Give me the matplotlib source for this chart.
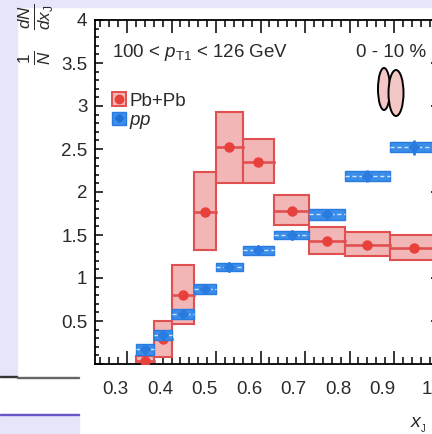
import numpy as np
import matplotlib
matplotlib.use("Agg")
import matplotlib.pyplot as plt
import matplotlib.transforms as mtransforms
from matplotlib.patches import Rectangle, Ellipse
from matplotlib.lines import Line2D
from matplotlib.legend_handler import HandlerTuple

plt.rcParams["font.family"] = ["Liberation Sans", "DejaVu Sans"]
plt.rcParams["mathtext.fontset"] = "custom"
plt.rcParams["mathtext.rm"] = "Liberation Sans"
plt.rcParams["mathtext.it"] = "Liberation Sans:italic"

# xJ bin edges
edges = [0.32, 0.36, 0.40, 0.45, 0.50, 0.56, 0.63, 0.71, 0.79, 0.89, 1.00]

# Pb+Pb, 0-10 %
pbpb = [0.04, 0.29, 0.80, 1.77, 2.52, 2.35, 1.78, 1.43, 1.38, 1.35]
pbpb_lo = [0.00, 0.08, 0.47, 1.32, 2.10, 2.10, 1.62, 1.28, 1.26, 1.21]
pbpb_hi = [0.09, 0.50, 1.15, 2.23, 2.93, 2.62, 1.97, 1.59, 1.53, 1.50]

# pp
pp = [0.17, 0.34, 0.58, 0.87, 1.13, 1.32, 1.50, 1.74, 2.19, 2.52]
pp_sys = [0.06, 0.06, 0.06, 0.06, 0.05, 0.05, 0.05, 0.06, 0.06, 0.06]
pp_stat = [0.05, 0.05, 0.05, 0.05, 0.05, 0.05, 0.05, 0.06, 0.07, 0.09]

xticks = [0.3, 0.4, 0.5, 0.6, 0.7, 0.8, 0.9, 1.0]
xticklabels = ["0.3", "0.4", "0.5", "0.6", "0.7", "0.8", "0.9", "1"]
yticks = [0, 0.5, 1, 1.5, 2, 2.5, 3, 3.5, 4]
yticklabels = ["", "0.5", "1", "1.5", "2", "2.5", "3", "3.5", "4"]

red_edge = "#e05050"
red_fill = "#f3b6b6"
red_mark = "#e8413c"
blue_fill = "#3a8de8"
blue_edge = "#2a7be0"
lavender = "#e6e6fa"
txt = "#2a2a2a"

W, H = 432, 434
fig = plt.figure(figsize=(W / 100, H / 100), dpi=100)
fig.patch.set_facecolor("white")

# slide background around the picture
def px_rect(x0, y0, x1, y1, color):
    fig.patches.append(Rectangle((x0 / W, 1 - y1 / H), (x1 - x0) / W, (y1 - y0) / H,
                                 transform=fig.transFigure, color=color, zorder=0))

px_rect(0, 0, W, 7, lavender)
px_rect(0, 0, 17, 376, lavender)
px_rect(0, 414, 79, H, lavender)
px_rect(0, 375.5, 17, 377, "#333333")
px_rect(17, 376.5, 79, 377.5, "#666666")
px_rect(0, 413.5, 79, 415, "#6a55c8")

ax = fig.add_axes([95 / W, 70 / H, 343.5 / W, 344 / H])
ax.set_xlim(0.228, 1.0)
ax.set_ylim(0, 4)

edges_a = np.array(edges)
centers = 0.5 * (edges_a[:-1] + edges_a[1:])
widths = np.diff(edges_a)

# Pb+Pb boxes
for c, w, v, lo, hi in zip(centers, widths, pbpb, pbpb_lo, pbpb_hi):
    ax.add_patch(Rectangle((c - w / 2, lo), w, hi - lo, facecolor=red_fill,
                           edgecolor=red_edge, lw=1.5, zorder=2))
    ax.plot([c - w / 2, c + w / 2], [v, v], color=red_edge, lw=1.9, zorder=3)
ax.plot(centers, pbpb, "o", color=red_mark, ms=6.5, zorder=4)

# pp boxes
for c, w, v, s in zip(centers, widths, pp, pp_sys):
    ax.add_patch(Rectangle((c - w / 2, v - s), w, 2 * s, facecolor=blue_fill,
                           edgecolor=blue_edge, lw=1.0, zorder=5))
    ax.plot([c - w / 2, c + w / 2], [v, v], color="#cfe3fb", lw=1.0,
            ls=(0, (3, 2)), zorder=6)
ax.errorbar(centers, pp, yerr=pp_stat, fmt="D", color=blue_edge, ms=5,
            elinewidth=2.0, capsize=0, zorder=7)

ax.xaxis.set_major_locator(matplotlib.ticker.FixedLocator(xticks))
ax.xaxis.set_major_formatter(matplotlib.ticker.FixedFormatter(xticklabels))
ax.xaxis.set_minor_locator(matplotlib.ticker.MultipleLocator(0.02))
ax.yaxis.set_major_locator(matplotlib.ticker.FixedLocator(yticks))
ax.yaxis.set_major_formatter(matplotlib.ticker.FixedFormatter(yticklabels))
ax.yaxis.set_minor_locator(matplotlib.ticker.MultipleLocator(0.1))

ax.tick_params(which="both", direction="in", top=True, right=True, width=1.1,
               colors="black", labelcolor=txt, labelsize=13.5)
ax.tick_params(axis="x", which="major", length=9.5, pad=12)
ax.tick_params(axis="x", which="minor", length=4.7)
ax.tick_params(axis="y", which="major", length=6, pad=5.5)
ax.tick_params(axis="y", which="minor", length=3)
for sp in ax.spines.values():
    sp.set_linewidth(1.3)

# labels sit a little left of their ticks in the original
shift = mtransforms.ScaledTranslation(-11.5 / 100, 0, fig.dpi_scale_trans)
for lab in ax.get_xticklabels():
    lab.set_transform(lab.get_transform() + shift)

fig.text(36 / W, 1 - 3 / H, r"$\frac{1}{N}\quad\frac{dN}{dx_{\mathrm{J}}}$",
         rotation=90, ha="center", va="top", fontsize=17.5, color=txt)
fig.text(418 / W, 1 - 425 / H, r"$x_{_\mathrm{J}}$", ha="center", va="center",
         fontsize=14, color=txt)

ax.text(0.05, 0.905, r"100 < $p_{\mathrm{T1}}$ < 126 GeV", transform=ax.transAxes,
        fontsize=13.5, color=txt, va="center", ha="left")
ax.text(0.965, 0.905, "0 - 10 %", transform=ax.transAxes,
        fontsize=13.5, color=txt, va="center", ha="right")

# centrality icon
ax.add_patch(Ellipse(((384 - 95) / 343.5, 1 - (89 - 20) / 344), 12 / 343.5, 42 / 344,
                     transform=ax.transAxes, facecolor="#f4c7c7", edgecolor="black",
                     lw=1.4, zorder=8))
ax.add_patch(Ellipse(((396 - 95) / 343.5, 1 - (93 - 20) / 344), 15 / 343.5, 46 / 344,
                     transform=ax.transAxes, facecolor="#f4c7c7", edgecolor="black",
                     lw=1.4, zorder=9))

h_pb = (Rectangle((0, 0), 1, 1, facecolor=red_fill, edgecolor=red_edge, lw=1.4),
        Line2D([], [], marker="o", color=red_mark, ls="", ms=6))
h_pp = (Rectangle((0, 0), 1, 1, facecolor=blue_fill, edgecolor=blue_edge, lw=1.0),
        Line2D([], [], marker="D", color="#1f6fd6", ls="", ms=4.5))
leg = ax.legend([h_pb, h_pp], ["Pb+Pb", r"$pp$"], loc="upper left",
                bbox_to_anchor=(0.05, 0.79), frameon=False, fontsize=13.5,
                handlelength=0.75, handleheight=0.75, handletextpad=0.15,
                labelspacing=0.1, borderpad=0, borderaxespad=0,
                handler_map={tuple: HandlerTuple(ndivide=1, pad=0)})
for t in leg.get_texts():
    t.set_color(txt)

fig.savefig("out.png", dpi=100)
